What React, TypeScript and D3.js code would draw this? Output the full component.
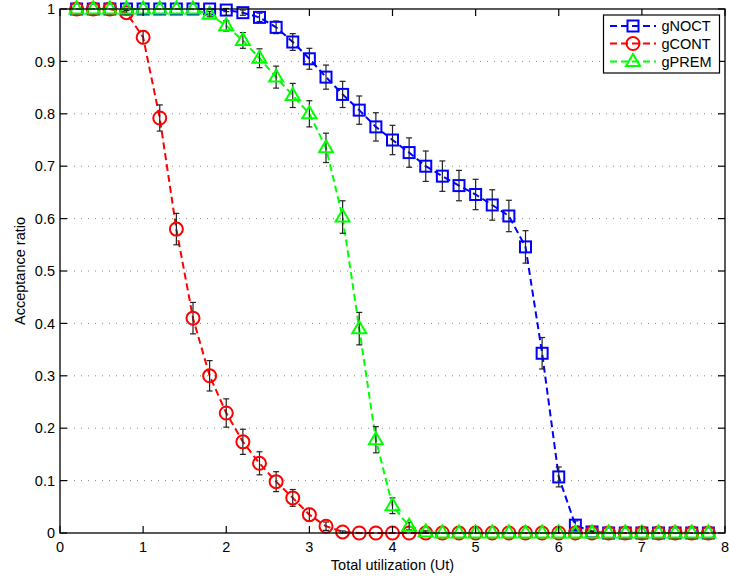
import React from 'react';
import * as d3 from 'd3';

const xs = [0.2, 0.4, 0.6, 0.8, 1.0, 1.2, 1.4, 1.6, 1.8, 2.0, 2.2, 2.4, 2.6, 2.8, 3.0, 3.2, 3.4, 3.6, 3.8, 4.0,
  4.2, 4.4, 4.6, 4.8, 5.0, 5.2, 5.4, 5.6, 5.8, 6.0, 6.2, 6.4, 6.6, 6.8, 7.0, 7.2, 7.4, 7.6, 7.8];

const gNOCT = [1, 1, 1, 1, 1, 1, 1, 1, 1,
  0.998, 0.993, 0.984, 0.965, 0.937, 0.905, 0.870, 0.837, 0.807, 0.775, 0.750, 0.726, 0.700, 0.681, 0.663,
  0.646, 0.626, 0.605, 0.546, 0.343, 0.107, 0.015, 0.002,
  0, 0, 0, 0, 0, 0, 0];
const gNOCTErr = [0, 0, 0, 0, 0, 0, 0, 0, 0,
  0.003, 0.005, 0.008, 0.012, 0.016, 0.02, 0.023, 0.025, 0.027, 0.027, 0.028, 0.028, 0.029, 0.029, 0.029,
  0.029, 0.029, 0.03, 0.031, 0.03, 0.019, 0.008, 0.002,
  0, 0, 0, 0, 0, 0, 0];

const gCONT = [1, 1, 1, 0.993, 0.946, 0.792, 0.58, 0.41, 0.30, 0.229, 0.174, 0.133, 0.098, 0.067, 0.035, 0.013, 0.002,
  0, 0, 0, 0, 0, 0, 0, 0, 0, 0, 0, 0, 0, 0, 0, 0, 0, 0, 0, 0, 0, 0];
const gCONTErr = [0, 0, 0, 0.004, 0.012, 0.025, 0.03, 0.03, 0.029, 0.027, 0.024, 0.022, 0.019, 0.016, 0.012, 0.008, 0.002,
  0, 0, 0, 0, 0, 0, 0, 0, 0, 0, 0, 0, 0, 0, 0, 0, 0, 0, 0, 0, 0, 0];

const gPREM = [1, 1, 1, 1, 1, 1, 1, 1,
  0.99, 0.968, 0.94, 0.906, 0.870, 0.835, 0.80, 0.735, 0.603, 0.39, 0.178, 0.052, 0.013, 0.002,
  0, 0, 0, 0, 0, 0, 0, 0, 0, 0, 0, 0, 0, 0, 0, 0, 0];
const gPREMErr = [0, 0, 0, 0, 0, 0, 0, 0,
  0.005, 0.01, 0.015, 0.018, 0.021, 0.023, 0.025, 0.028, 0.031, 0.031, 0.025, 0.015, 0.007, 0.002,
  0, 0, 0, 0, 0, 0, 0, 0, 0, 0, 0, 0, 0, 0, 0, 0, 0];

const xTicks = [0, 1, 2, 3, 4, 5, 6, 7, 8];
const yTicks = [0, 0.1, 0.2, 0.3, 0.4, 0.5, 0.6, 0.7, 0.8, 0.9, 1];
const seriesNames = ['gNOCT', 'gCONT', 'gPREM'];
const seriesColors = ['#0000ff', '#ff0000', '#00ff00'];
const seriesMarkers = ['square', 'circle', 'triangle'];

const W = 729, H = 579;
const L = 60, R = 725, T = 9, B = 533;
const FONT = 'Liberation Sans, Arial, Helvetica, sans-serif';

function Marker({ type, x, y, color }: { type: string; x: number; y: number; color: string }) {
  if (type === 'square') {
    return <rect x={x - 5.5} y={y - 5.5} width={11} height={11} fill="none" stroke={color} strokeWidth={2} />;
  }
  if (type === 'circle') {
    return <circle cx={x} cy={y} r={6.5} fill="none" stroke={color} strokeWidth={2} />;
  }
  const pts = [[x, y - 7.5], [x + 7, y + 4.5], [x - 7, y + 4.5]].map(p => p.join(',')).join(' ');
  return <polygon points={pts} fill="none" stroke={color} strokeWidth={2} strokeLinejoin="miter" />;
}

export default function App() {
  const x = d3.scaleLinear().domain([0, 8]).range([L, R]);
  const y = d3.scaleLinear().domain([0, 1]).range([B, T]);
  const line = d3.line<number>().x((_, i) => x(xs[i])).y(d => y(d));

  const series = [
    { vals: gNOCT, err: gNOCTErr },
    { vals: gCONT, err: gCONTErr },
    { vals: gPREM, err: gPREMErr },
  ];

  const tickLen = 7;
  const legX = 603.5, legY = 15, legW = 116, legH = 58;
  const rowY = [26, 43.5, 61.5];

  return (
    <svg width={W} height={H} style={{ position: 'absolute', left: 0, top: 0, background: '#fff' }}
      fontFamily={FONT}>
      <rect x={0} y={0} width={W} height={H} fill="#fff" />
      {yTicks.slice(1, -1).map(t => (
        <line key={'g' + t} x1={L} x2={R} y1={y(t)} y2={y(t)} stroke="#888" strokeWidth={1}
          strokeDasharray="1,6" />
      ))}
      {series.map((s, si) => (
        <g key={si}>
          <path d={line(s.vals) || ''} fill="none" stroke={seriesColors[si]} strokeWidth={2}
            strokeDasharray="7,4" />
          {s.vals.map((v, i) => s.err[i] > 0 ? (
            <g key={'e' + i} stroke="#222" strokeWidth={1.2}>
              <line x1={x(xs[i])} x2={x(xs[i])} y1={y(v - s.err[i])} y2={y(v + s.err[i])} />
              <line x1={x(xs[i]) - 3} x2={x(xs[i]) + 3} y1={y(v - s.err[i])} y2={y(v - s.err[i])} />
              <line x1={x(xs[i]) - 3} x2={x(xs[i]) + 3} y1={y(v + s.err[i])} y2={y(v + s.err[i])} />
            </g>
          ) : null)}
          {s.vals.map((v, i) => (
            <Marker key={'m' + i} type={seriesMarkers[si]} x={x(xs[i])} y={y(v)} color={seriesColors[si]} />
          ))}
        </g>
      ))}
      <rect x={L} y={T} width={R - L} height={B - T} fill="none" stroke="#000" strokeWidth={1.3} />
      {xTicks.map(t => (
        <g key={'xt' + t}>
          <line x1={x(t)} x2={x(t)} y1={B} y2={B - tickLen} stroke="#000" strokeWidth={1.2} />
          <line x1={x(t)} x2={x(t)} y1={T} y2={T + tickLen} stroke="#000" strokeWidth={1.2} />
          <text x={x(t)} y={552} textAnchor="middle" fontSize={14.5} fill="#000">{t}</text>
        </g>
      ))}
      {yTicks.map(t => (
        <g key={'yt' + t}>
          <line x1={L} x2={L + tickLen} y1={y(t)} y2={y(t)} stroke="#000" strokeWidth={1.2} />
          <line x1={R} x2={R - tickLen} y1={y(t)} y2={y(t)} stroke="#000" strokeWidth={1.2} />
          <text x={55} y={y(t)} dy="0.36em" textAnchor="end" fontSize={14.5} fill="#000">{d3.format('~g')(t)}</text>
        </g>
      ))}
      <text x={(L + R) / 2} y={569.5} textAnchor="middle" fontSize={14.5} fill="#000">Total utilization (Ut)</text>
      <text transform={`translate(25,${(T + B) / 2}) rotate(-90)`} textAnchor="middle" fontSize={14.5}
        fill="#000">Acceptance ratio</text>
      <rect x={legX} y={legY} width={legW} height={legH} fill="#fff" stroke="#000" strokeWidth={1.2} />
      {seriesNames.map((n, i) => (
        <g key={n}>
          <line x1={610} x2={656} y1={rowY[i]} y2={rowY[i]} stroke={seriesColors[i]} strokeWidth={2}
            strokeDasharray="7,4" />
          <Marker type={seriesMarkers[i]} x={633} y={rowY[i]} color={seriesColors[i]} />
          <text x={661.5} y={rowY[i]} dy="0.36em" fontSize={14.5} fill="#000">{n}</text>
        </g>
      ))}
    </svg>
  );
}
